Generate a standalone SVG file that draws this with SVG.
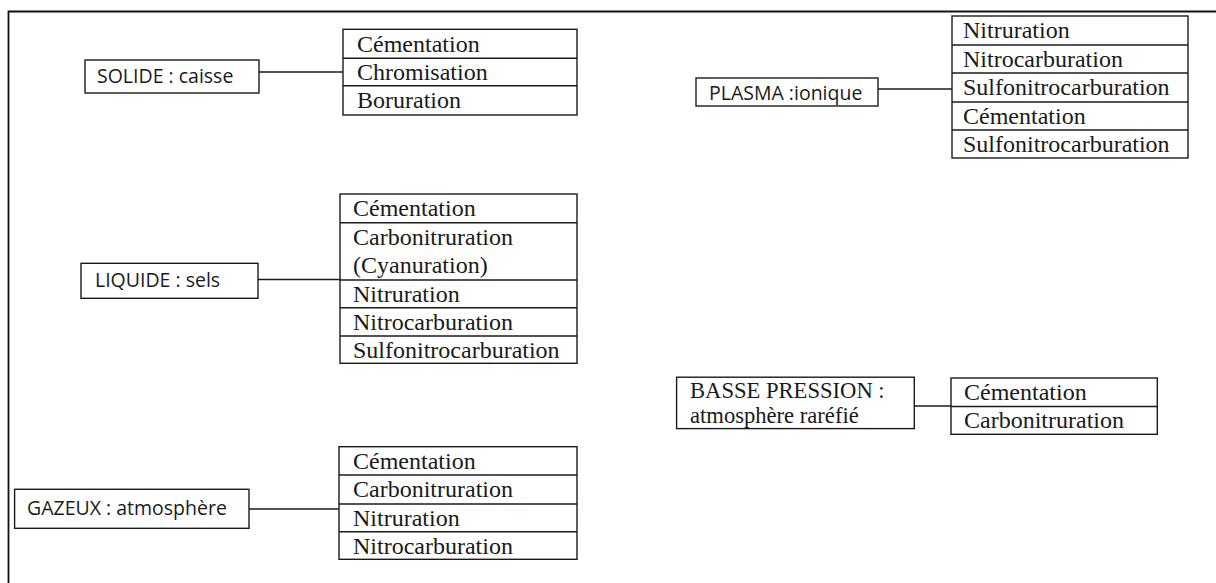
<svg xmlns="http://www.w3.org/2000/svg" width="1216" height="583" viewBox="0 0 1216 583">
<style>
.box{fill:#fff;stroke:#1a1a1a;stroke-width:1.4}
.div{stroke:#1a1a1a;stroke-width:1.4;fill:none}
.con{stroke:#1a1a1a;stroke-width:1.5;fill:none}
.s{font-family:"Open Sans","Liberation Sans",sans-serif;font-size:19.5px;fill:#1a1a1a}
.t{font-family:"Liberation Serif","Times New Roman",serif;font-size:24px;fill:#1a1a1a}
.tb{font-family:"Liberation Serif","Times New Roman",serif;font-size:22.6px;fill:#1a1a1a}
</style>
<rect width="1216" height="583" fill="#fff"/>
<path d="M8.5,583 V11.5 H1216" fill="none" stroke="#111" stroke-width="1.8"/>

<g id="connectors">
<line class="con" x1="259" y1="72" x2="343" y2="72"/>
<line class="con" x1="258" y1="279.5" x2="340" y2="279.5"/>
<line class="con" x1="249" y1="509" x2="339" y2="509"/>
<line class="con" x1="878" y1="89" x2="952" y2="89"/>
<line class="con" x1="914" y1="406" x2="951" y2="406"/>
</g>

<g id="solide">
<rect class="box" x="85" y="60" width="174" height="33"/>
<text class="s" x="97" y="83">SOLIDE : caisse</text>
</g>
<g id="solide-list">
<rect class="box" x="343" y="29.3" width="234" height="85.7"/>
<line class="div" x1="343" y1="58.3" x2="577" y2="58.3"/>
<line class="div" x1="343" y1="85.7" x2="577" y2="85.7"/>
<text class="t" x="357" y="51.5">Cémentation</text>
<text class="t" x="357" y="80">Chromisation</text>
<text class="t" x="357" y="107.5">Boruration</text>
</g>

<g id="liquide">
<rect class="box" x="81" y="263.3" width="177" height="35"/>
<text class="s" x="95" y="287">LIQUIDE : sels</text>
</g>
<g id="liquide-list">
<rect class="box" x="340" y="194" width="237" height="169.3"/>
<line class="div" x1="340" y1="222.7" x2="577" y2="222.7"/>
<line class="div" x1="340" y1="280" x2="577" y2="280"/>
<line class="div" x1="340" y1="307.7" x2="577" y2="307.7"/>
<line class="div" x1="340" y1="336" x2="577" y2="336"/>
<text class="t" x="353" y="215.5">Cémentation</text>
<text class="t" x="353" y="245">Carbonitruration</text>
<text class="t" x="353" y="273">(Cyanuration)</text>
<text class="t" x="353" y="301.5">Nitruration</text>
<text class="t" x="353" y="330">Nitrocarburation</text>
<text class="t" x="353" y="358">Sulfonitrocarburation</text>
</g>

<g id="gazeux">
<rect class="box" x="14.6" y="489.3" width="234.4" height="39"/>
<text class="s" x="27" y="515">GAZEUX : atmosphère</text>
</g>
<g id="gazeux-list">
<rect class="box" x="339" y="446.7" width="238" height="112.6"/>
<line class="div" x1="339" y1="475" x2="577" y2="475"/>
<line class="div" x1="339" y1="504" x2="577" y2="504"/>
<line class="div" x1="339" y1="531.7" x2="577" y2="531.7"/>
<text class="t" x="353" y="468.5">Cémentation</text>
<text class="t" x="353" y="497">Carbonitruration</text>
<text class="t" x="353" y="525.5">Nitruration</text>
<text class="t" x="353" y="553.5">Nitrocarburation</text>
</g>

<g id="plasma">
<rect class="box" x="696" y="78" width="182" height="28"/>
<text class="s" x="709" y="100">PLASMA :ionique</text>
</g>
<g id="plasma-list">
<rect class="box" x="952" y="16" width="236" height="142"/>
<line class="div" x1="952" y1="45" x2="1188" y2="45"/>
<line class="div" x1="952" y1="73" x2="1188" y2="73"/>
<line class="div" x1="952" y1="102" x2="1188" y2="102"/>
<line class="div" x1="952" y1="130" x2="1188" y2="130"/>
<text class="t" x="963" y="38">Nitruration</text>
<text class="t" x="963" y="67">Nitrocarburation</text>
<text class="t" x="963" y="95">Sulfonitrocarburation</text>
<text class="t" x="963" y="124">Cémentation</text>
<text class="t" x="963" y="152">Sulfonitrocarburation</text>
</g>

<g id="basse">
<rect class="box" x="676.6" y="377.2" width="237.7" height="51.4"/>
<text class="tb" x="690" y="398">BASSE PRESSION :</text>
<text class="tb" x="690" y="422.7">atmosphère raréfié</text>
</g>
<g id="basse-list">
<rect class="box" x="951" y="378" width="206.3" height="56.3"/>
<line class="div" x1="951" y1="406.5" x2="1157.3" y2="406.5"/>
<text class="t" x="964" y="399.6">Cémentation</text>
<text class="t" x="964" y="427.7">Carbonitruration</text>
</g>
</svg>
